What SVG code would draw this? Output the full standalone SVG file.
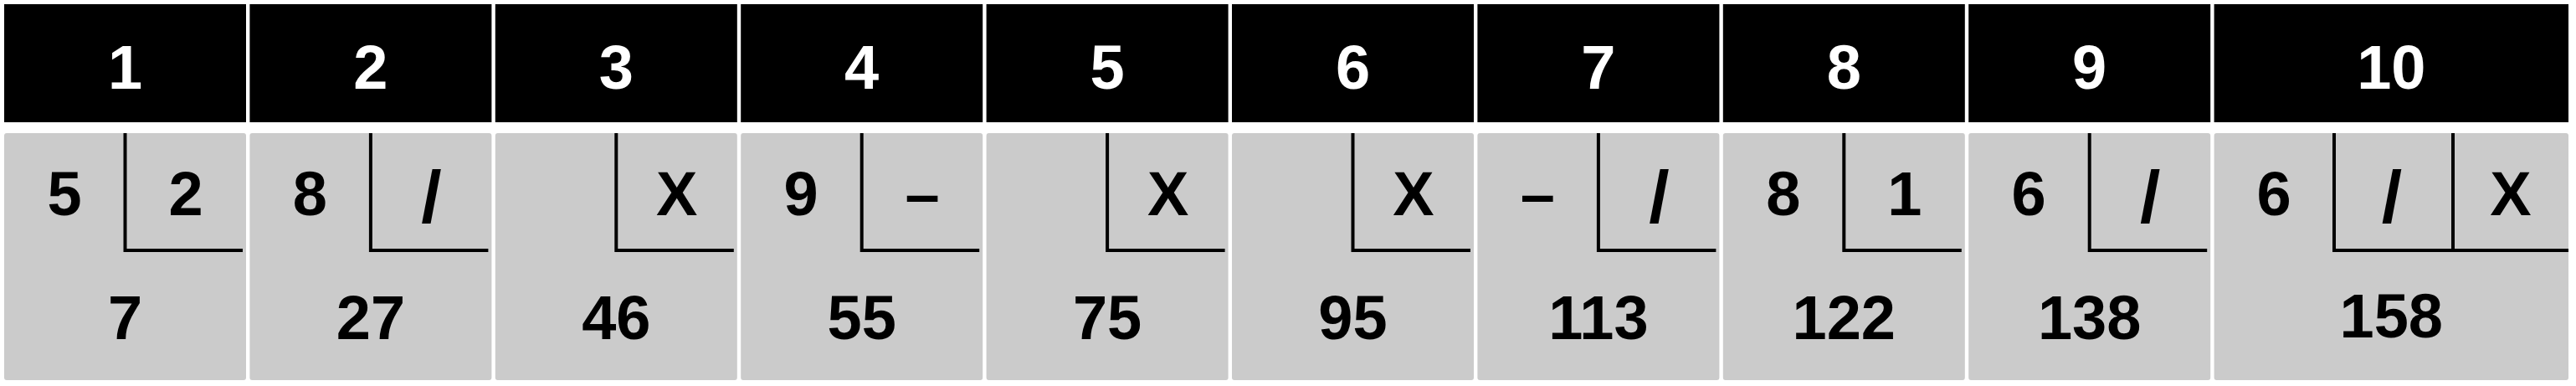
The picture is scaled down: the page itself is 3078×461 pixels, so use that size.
<svg xmlns="http://www.w3.org/2000/svg" width="3078" height="461" viewBox="0 0 3078 461">
<style>
.hd{fill:#000000}
.bd{fill:#cbcbcb}
.ln{stroke:#000000;stroke-width:4;fill:none;stroke-linecap:butt}
text{font-family:"Liberation Sans",Arial,sans-serif;font-weight:bold;font-size:74px;text-anchor:middle}
.ht{fill:#ffffff}
.bt{fill:#000000}
.sl{font-size:88px}
</style>
<rect x="0" y="0" width="3078" height="461" fill="#ffffff"/>
<g id="frame1">
<rect class="hd" x="5" y="5" width="289" height="141"/>
<rect class="bd" x="5" y="159" width="289" height="295" rx="3"/>
<text class="ht" x="149.5" y="106">1</text>
<path class="ln" d="M149.5 159V299H290"/>
<text class="bt" x="77" y="257">5</text>
<text class="bt" x="222" y="257">2</text>
<text class="bt" x="149.5" y="405">7</text>
</g>
<g id="frame2">
<rect class="hd" x="298.4" y="5" width="289" height="141"/>
<rect class="bd" x="298.4" y="159" width="289" height="295" rx="3"/>
<text class="ht" x="442.9" y="106">2</text>
<path class="ln" d="M442.9 159V299H583.4"/>
<text class="bt" x="370.4" y="257">8</text>
<text class="bt sl" x="515.4" y="265">/</text>
<text class="bt" x="442.9" y="405">27</text>
</g>
<g id="frame3">
<rect class="hd" x="591.8" y="5" width="289" height="141"/>
<rect class="bd" x="591.8" y="159" width="289" height="295" rx="3"/>
<text class="ht" x="736.3" y="106">3</text>
<path class="ln" d="M736.3 159V299H876.8"/>
<text class="bt" x="808.8" y="257">X</text>
<text class="bt" x="736.3" y="405">46</text>
</g>
<g id="frame4">
<rect class="hd" x="885.2" y="5" width="289" height="141"/>
<rect class="bd" x="885.2" y="159" width="289" height="295" rx="3"/>
<text class="ht" x="1029.7" y="106">4</text>
<path class="ln" d="M1029.7 159V299H1170.2"/>
<text class="bt" x="957.2" y="257">9</text>
<text class="bt" x="1102.2" y="257">–</text>
<text class="bt" x="1029.7" y="405">55</text>
</g>
<g id="frame5">
<rect class="hd" x="1178.6" y="5" width="289" height="141"/>
<rect class="bd" x="1178.6" y="159" width="289" height="295" rx="3"/>
<text class="ht" x="1323.1" y="106">5</text>
<path class="ln" d="M1323.1 159V299H1463.6"/>
<text class="bt" x="1395.6" y="257">X</text>
<text class="bt" x="1323.1" y="405">75</text>
</g>
<g id="frame6">
<rect class="hd" x="1472" y="5" width="289" height="141"/>
<rect class="bd" x="1472" y="159" width="289" height="295" rx="3"/>
<text class="ht" x="1616.5" y="106">6</text>
<path class="ln" d="M1616.5 159V299H1757"/>
<text class="bt" x="1689" y="257">X</text>
<text class="bt" x="1616.5" y="405">95</text>
</g>
<g id="frame7">
<rect class="hd" x="1765.4" y="5" width="289" height="141"/>
<rect class="bd" x="1765.4" y="159" width="289" height="295" rx="3"/>
<text class="ht" x="1909.9" y="106">7</text>
<path class="ln" d="M1909.9 159V299H2050.4"/>
<text class="bt" x="1837.4" y="257">–</text>
<text class="bt sl" x="1982.4" y="265">/</text>
<text class="bt" x="1909.9" y="405">113</text>
</g>
<g id="frame8">
<rect class="hd" x="2058.8" y="5" width="289" height="141"/>
<rect class="bd" x="2058.8" y="159" width="289" height="295" rx="3"/>
<text class="ht" x="2203.3" y="106">8</text>
<path class="ln" d="M2203.3 159V299H2343.8"/>
<text class="bt" x="2130.8" y="257">8</text>
<text class="bt" x="2275.8" y="257">1</text>
<text class="bt" x="2203.3" y="405">122</text>
</g>
<g id="frame9">
<rect class="hd" x="2352.2" y="5" width="289" height="141"/>
<rect class="bd" x="2352.2" y="159" width="289" height="295" rx="3"/>
<text class="ht" x="2496.7" y="106">9</text>
<path class="ln" d="M2496.7 159V299H2637.2"/>
<text class="bt" x="2424.2" y="257">6</text>
<text class="bt sl" x="2569.2" y="265">/</text>
<text class="bt" x="2496.7" y="405">138</text>
</g>
<g id="frame10">
<rect class="hd" x="2645.6" y="5" width="423.4" height="141"/>
<rect class="bd" x="2645.6" y="159" width="423.4" height="295" rx="3"/>
<text class="ht" x="2857.3" y="106">10</text>
<path class="ln" d="M2789 159V299H3069M2931 159V299"/>
<text class="bt" x="2717" y="257">6</text>
<text class="bt sl" x="2858" y="265">/</text>
<text class="bt" x="3000" y="257">X</text>
<text class="bt" x="2857.3" y="403">158</text>
</g>
<g id="connectors"></g>
</svg>
